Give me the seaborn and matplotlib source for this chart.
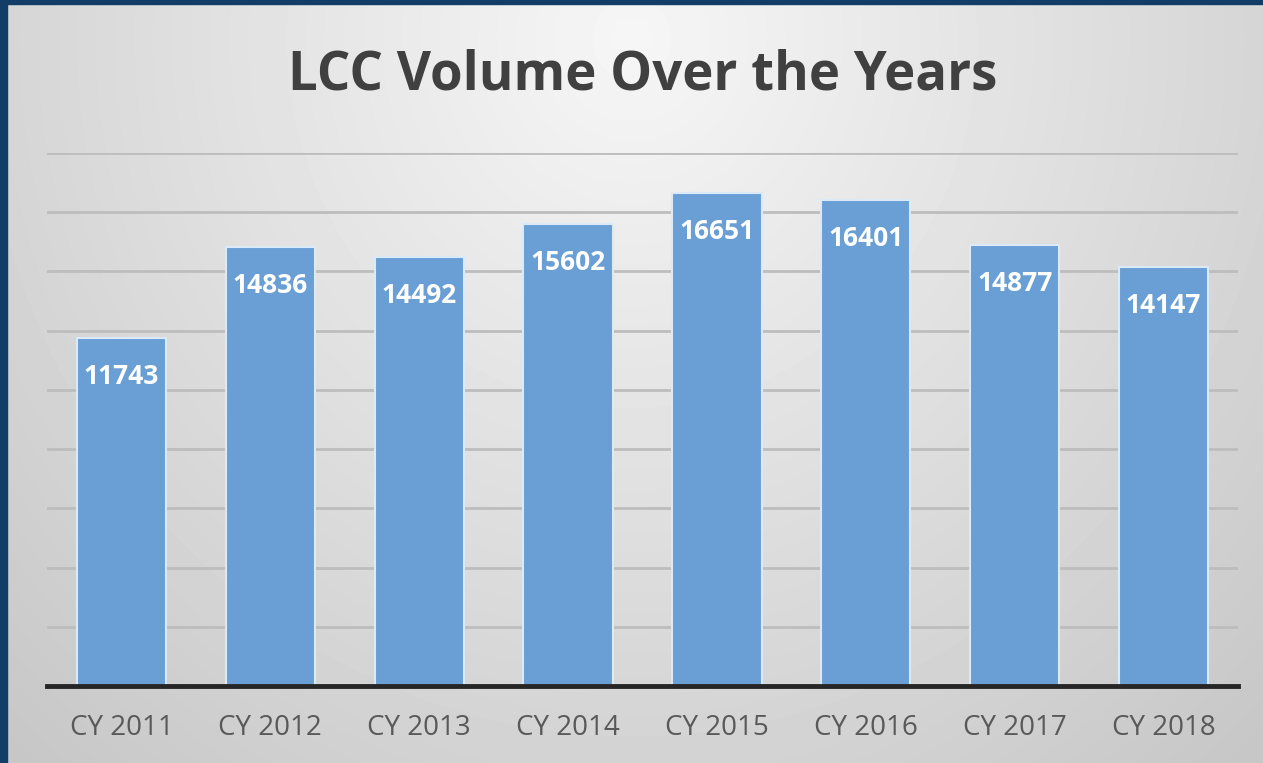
import numpy as np
import pandas as pd
import matplotlib.pyplot as plt
import seaborn as sns

years = ['CY 2011', 'CY 2012', 'CY 2013', 'CY 2014', 'CY 2015', 'CY 2016', 'CY 2017', 'CY 2018']
volume = [11743, 14836, 14492, 15602, 16651, 16401, 14877, 14147]

df = pd.DataFrame({'year': years, 'volume': volume})

sns.set_theme(style='white')
plt.rcParams['font.family'] = ['Open Sans', 'DejaVu Sans']

fig = plt.figure(figsize=(12.63, 7.63), dpi=100)

# gradient background (light at top centre, darker toward edges)
bg = fig.add_axes([0, 0, 1, 1], zorder=0)
h, w = 763, 1263
yy, xx = np.mgrid[0:h, 0:w]
r = np.sqrt(((xx - w * 0.5) / (w * 0.62)) ** 2 + ((yy - h * 0.05) / (h * 1.1)) ** 2)
shade = np.clip(0.965 - 0.16 * r, 0.78, 0.97)
bg.imshow(shade, cmap='gray', vmin=0, vmax=1, aspect='auto', extent=[0, 1, 0, 1])
bg.set_axis_off()

# dark blue frame on left and top
fig.patches.append(plt.Rectangle((0, 0), 7 / w, 1, transform=fig.transFigure, color='#113D66', zorder=5))
fig.patches.append(plt.Rectangle((0, 1 - 4 / h), 1, 4 / h, transform=fig.transFigure, color='#113D66', zorder=5))

ax = fig.add_axes([47 / w, 1 - 686 / h, (1238 - 47) / w, (686 - 153) / h], zorder=1)
ax.patch.set_alpha(0)

sns.barplot(data=df, x='year', y='volume', color='#6A9FD5', saturation=1, width=0.6,
            edgecolor='#DCEAF7', linewidth=1.5, ax=ax, zorder=3)

ax.set_ylim(0, 18000)
ax.set_yticks(np.arange(0, 18001, 2000))
ax.yaxis.grid(True, color='#BDBDBD', linewidth=2)
ax.set_axisbelow(True)
ax.tick_params(axis='y', left=False, labelleft=False)
ax.tick_params(axis='x', bottom=False, pad=14, labelsize=20, labelcolor='#595959')
for s in ['top', 'right', 'left']:
    ax.spines[s].set_visible(False)
ax.spines['bottom'].set_color('#262626')
ax.spines['bottom'].set_linewidth(3.5)
ax.spines['bottom'].set_zorder(4)
ax.set_xlabel('')
ax.set_ylabel('')

for i, v in enumerate(volume):
    ax.annotate(str(v), (i, v), xytext=(0, -18), textcoords='offset points',
                ha='center', va='top', color='white', fontsize=19, fontweight='bold', zorder=5)

fig.text(643 / w, 1 - 75 / h, 'LCC Volume Over the Years', ha='center', va='center',
         fontsize=38, fontweight='bold', color='#404040')

fig.savefig('out.png', dpi=100)
